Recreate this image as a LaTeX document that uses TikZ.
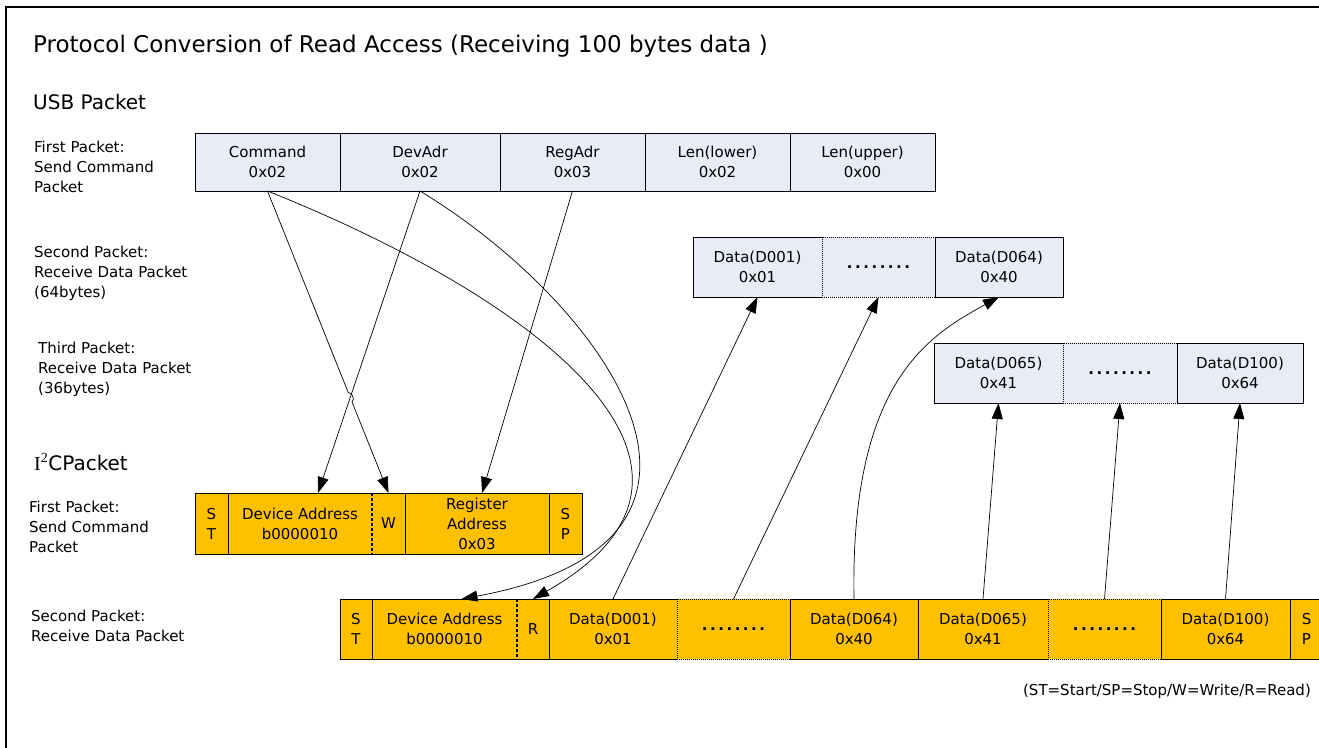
\documentclass[tikz,border=0pt]{standalone}
\usepackage{fontspec}
\setmainfont{DejaVu Sans}
\newfontfamily\iserif{Liberation Serif}
\usetikzlibrary{arrows.meta,calc}
\definecolor{usbblue}{RGB}{231,236,247}
\definecolor{i2cgold}{RGB}{255,192,0}

\begin{document}
\begin{tikzpicture}[x=1pt,y=-1pt,
    txt/.style={anchor=west,align=left,inner sep=0pt,font=\fontsize{15}{20}\selectfont},
    usbcell/.style={draw,line width=0.8pt,fill=usbblue,anchor=north west,inner sep=0pt,outer sep=0pt,align=center,font=\fontsize{15}{20}\selectfont},
    dotcell/.style={usbcell,dash pattern=on 1pt off 1pt},
    i2ccell/.style={fill=i2cgold,anchor=north west,inner sep=0pt,outer sep=0pt,minimum height=60pt,align=center,font=\fontsize{15}{20}\selectfont},
    edge/.style={line width=0.8pt},
    dotline/.style={line width=0.8pt,dash pattern=on 1pt off 1pt},
    dashline/.style={line width=1.3pt,dash pattern=on 3pt off 2pt},
    arr/.style={line width=0.7pt,-{Triangle[length=16pt,width=11pt]}}]
  \useasboundingbox (0,0) rectangle (1319,747);
  \draw[line width=1.6pt] (6,7) rectangle (1340,770);

  % texts
  \node[txt,font=\fontsize{23}{27}\selectfont] (title) at (33,46) {Protocol Conversion of Read Access (Receiving 100 bytes data )};
  \node[txt,font=\fontsize{20}{24}\selectfont] (usb) at (33,102) {USB Packet};
  \node[txt] (lusb1) at (34,167) {First Packet:\\Send Command\\Packet};
  \node[txt] (lusb2) at (34,273) {Second Packet:\\Receive Data Packet\\(64bytes)};
  \node[txt] (lusb3) at (38,369) {Third Packet:\\Receive Data Packet\\(36bytes)};
  \node[txt,font=\fontsize{20}{24}\selectfont] (i2c) at (34,462) {{\iserif I\textsuperscript{2}}CPacket};
  \node[txt] (li2c1) at (29,527) {First Packet:\\Send Command\\Packet};
  \node[txt] (li2c2) at (31,626) {Second Packet:\\Receive Data Packet};
  \node[txt,font=\fontsize{15}{18}\selectfont,anchor=east] (note) at (1311,691) {(ST=Start/SP=Stop/W=Write/R=Read)};

  % USB first packet
  \node[usbcell,minimum width=145pt,minimum height=58pt] (cmd) at (195,133) {Command\\0x02};
  \node[usbcell,minimum width=160pt,minimum height=58pt] (dev) at (340,133) {DevAdr\\0x02};
  \node[usbcell,minimum width=145pt,minimum height=58pt] (reg) at (500,133) {RegAdr\\0x03};
  \node[usbcell,minimum width=145pt,minimum height=58pt] (lenl) at (645,133) {Len(lower)\\0x02};
  \node[usbcell,minimum width=145pt,minimum height=58pt] (lenu) at (790,133) {Len(upper)\\0x00};

  % USB second packet
  \node[usbcell,minimum width=129pt,minimum height=60pt] (ud1) at (693,237) {Data(D001)\\0x01};
  \node[dotcell,minimum width=113pt,minimum height=60pt] (udots) at (822,237) {\bfseries .\,.\,.\,.\,.\,.\,.\,.};
  \node[usbcell,minimum width=128pt,minimum height=60pt] (ud64) at (935,237) {Data(D064)\\0x40};

  % USB third packet
  \node[usbcell,minimum width=129pt,minimum height=60pt] (ut65) at (934,343) {Data(D065)\\0x41};
  \node[dotcell,minimum width=114pt,minimum height=60pt] (utdots) at (1063,343) {\bfseries .\,.\,.\,.\,.\,.\,.\,.};
  \node[usbcell,minimum width=126pt,minimum height=60pt] (ut100) at (1177,343) {Data(D100)\\0x64};

  % I2C first packet
  \node[i2ccell,minimum width=33pt,minimum height=61pt] (st1) at (195,493) {S\\T};
  \node[i2ccell,minimum width=144pt,minimum height=61pt] (da1) at (228,493) {Device Address\\b0000010};
  \node[i2ccell,minimum width=33pt,minimum height=61pt] (w1) at (372,493) {W};
  \node[i2ccell,minimum width=144pt,minimum height=61pt] (ra1) at (405,493) {Register\\Address\\0x03};
  \node[i2ccell,minimum width=33pt,minimum height=61pt] (sp1) at (549,493) {S\\P};
  \draw[edge] (st1.north west) rectangle (sp1.south east);
  \draw[edge] (st1.north east) -- (st1.south east);
  \draw[dashline] (da1.north east) -- (da1.south east);
  \draw[edge] (w1.north east) -- (w1.south east);
  \draw[edge] (ra1.north east) -- (ra1.south east);

  % I2C second packet
  \node[i2ccell,minimum width=32pt] (st2) at (340,599) {S\\T};
  \node[i2ccell,minimum width=145pt] (da2) at (372,599) {Device Address\\b0000010};
  \node[i2ccell,minimum width=32pt] (r2) at (517,599) {R};
  \node[i2ccell,minimum width=128pt] (bd1) at (549,599) {Data(D001)\\0x01};
  \node[i2ccell,minimum width=113pt] (bdots1) at (677,599) {\bfseries .\,.\,.\,.\,.\,.\,.\,.};
  \node[i2ccell,minimum width=128pt] (b64) at (790,599) {Data(D064)\\0x40};
  \node[i2ccell,minimum width=130pt] (b65) at (918,599) {Data(D065)\\0x41};
  \node[i2ccell,minimum width=113pt] (bdots2) at (1048,599) {\bfseries .\,.\,.\,.\,.\,.\,.\,.};
  \node[i2ccell,minimum width=129pt] (b100) at (1161,599) {Data(D100)\\0x64};
  \node[i2ccell,minimum width=33pt] (sp2) at (1290,599) {S\\P};
  \draw[edge] (bd1.north east) -- (st2.north west) -- (st2.south west) -- (bd1.south east);
  \draw[edge] (b64.north west) -- (b65.north east);
  \draw[edge] (b64.south west) -- (b65.south east);
  \draw[edge] (b100.north west) -- (sp2.north east) -- (sp2.south east) -- (b100.south west);
  \draw[dotline] (bdots1.north west) rectangle (bdots1.south east);
  \draw[dotline] (bdots2.north west) rectangle (bdots2.south east);
  \draw[edge] (st2.north east) -- (st2.south east);
  \draw[dashline] (da2.north east) -- (da2.south east);
  \draw[edge] (r2.north east) -- (r2.south east);
  \draw[edge] (b64.north west) -- (b64.south west);
  \draw[edge] (b65.north west) -- (b65.south west);
  \draw[edge] (b100.north west) -- (b100.south west);
  \draw[edge] (sp2.north west) -- (sp2.south west);

  % USB -> I2C
  \draw[arr] (dev.south) -- ([xshift=18pt]da1.north);
  \draw[arr] (reg.south) -- ([xshift=5pt]ra1.north);
  \draw[arr] (cmd.south) -- ($(cmd.south)!0.668!(w1.north)$) to[bend left=90] ($(cmd.south)!0.698!(w1.north)$) -- (w1.north);
  \draw[arr] (cmd.south) .. controls (540,300) and (760,470) .. (r2.north);
  \draw[arr] (dev.south) .. controls (600,300) and (780,540) .. ([xshift=17pt]da2.north);

  % I2C -> USB
  \draw[arr] (bd1.north) -- (ud1.south);
  \draw[arr] (bdots1.north) -- (udots.south);
  \draw[arr] (b64.north) .. controls (850,380) and (930,335) .. (ud64.south);
  \draw[arr] (b65.north) -- (ut65.south);
  \draw[arr] (bdots2.north) -- (utdots.south);
  \draw[arr] (b100.north) -- (ut100.south);
\end{tikzpicture}
\end{document}
